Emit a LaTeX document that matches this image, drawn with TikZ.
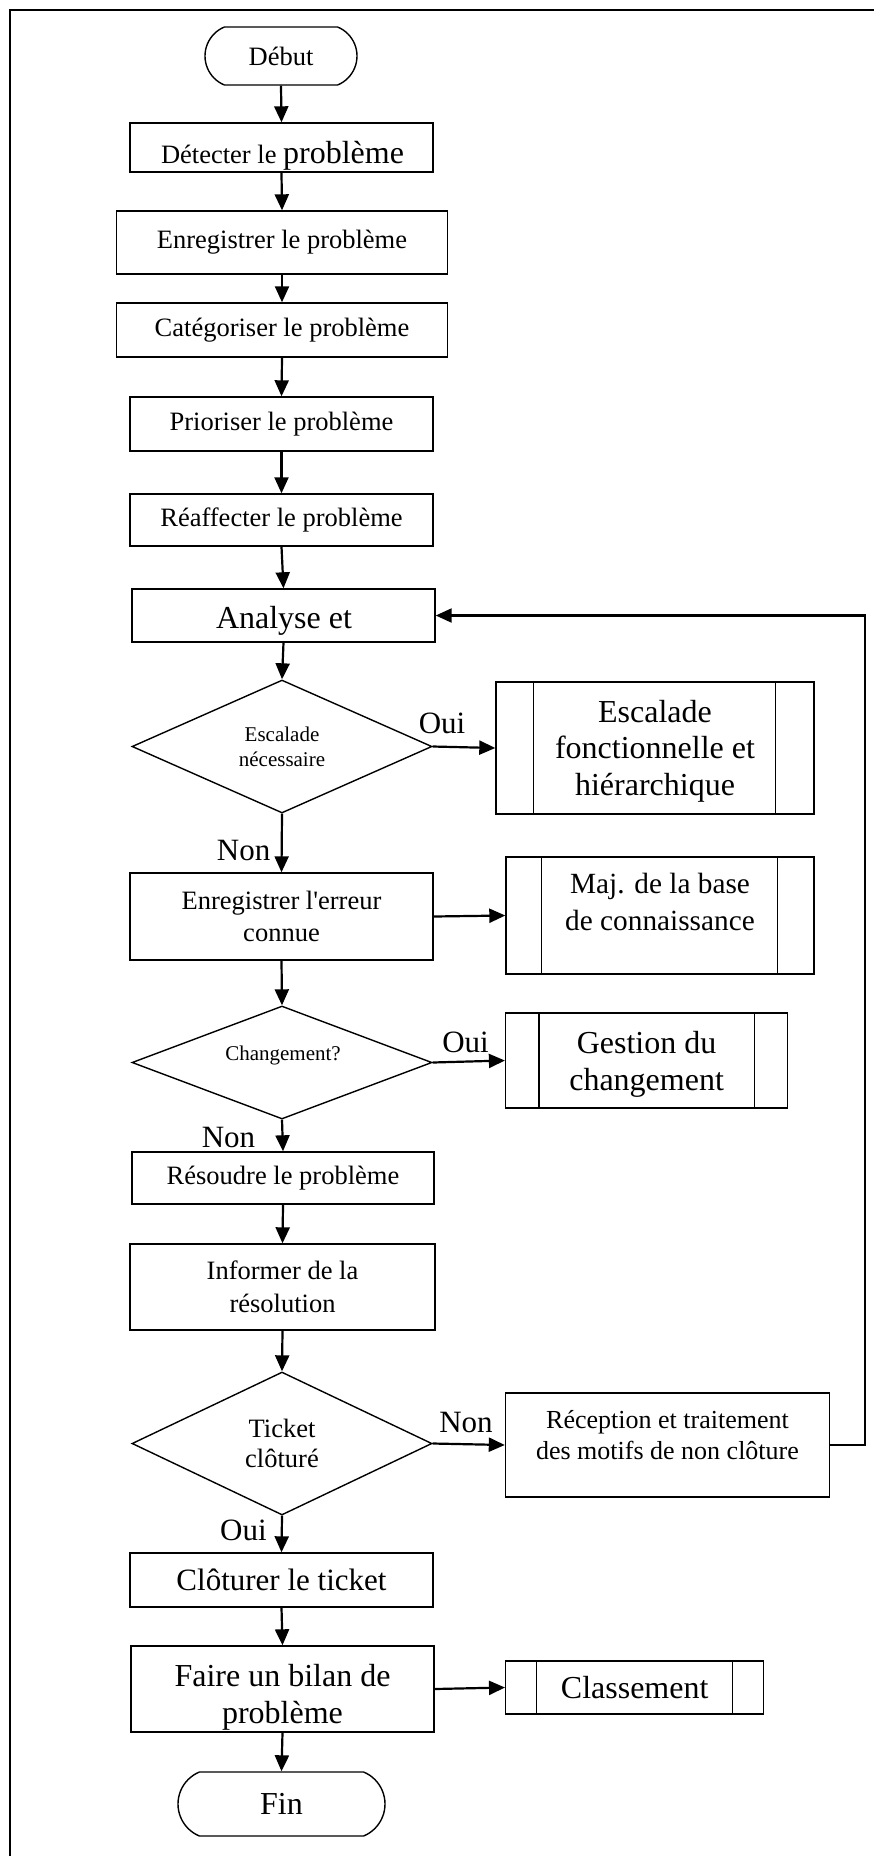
\documentclass[tikz,border=0pt]{standalone}
\usepackage{fontspec}
\setmainfont{Liberation Serif}
\usetikzlibrary{shapes.geometric,shapes.misc,arrows.meta}
\begin{document}
\begin{tikzpicture}[x=1pt,y=-1pt,
  box/.style={draw, rectangle, line width=1.4pt, inner sep=0pt, align=center},
  term/.style={draw, rounded rectangle, rounded rectangle arc length=135, line width=1.4pt, inner sep=0pt},
  decision/.style={draw, diamond, aspect=2.2, line width=1.4pt, inner sep=0pt, align=center},
  flow/.style={line width=2.2pt, -{Triangle[length=16pt,width=14pt]}},
  bar/.style={line width=1.4pt},
  txt/.style={inner sep=0pt, align=center},
  fnorm/.style={font=\fontsize{26.5}{32}\selectfont},
  fbig/.style={font=\fontsize{32}{36.7}\selectfont},
  fsmall/.style={font=\fontsize{21}{24.7}\selectfont},
  answer/.style={inner sep=0pt, anchor=base, font=\fontsize{31}{36}\selectfont},
]
\useasboundingbox (0,0) rectangle (874,1856);

% page frame (top and left edges)
\draw[line width=1.7pt] (10,1870) -- (10,10) -- (890,10);

% main column
\node[term, minimum width=152pt, minimum height=58pt, fnorm] (debut) at (281,56) {Début};
\node[box, minimum width=303pt, minimum height=49pt] (detect) at (281.5,147.5) {};
\node[txt, anchor=base, fnorm] (detect-txt) at (282.5,163.3) {Détecter le {\fontsize{32}{36}\selectfont problème}};
\node[box, minimum width=331pt, minimum height=63pt, fnorm] (enreg) at (282,242.5) {Enregistrer le problème};
\node[box, minimum width=331pt, minimum height=54pt, fnorm] (categ) at (282,330) {Catégoriser le problème};
\node[box, minimum width=303pt, minimum height=54pt, fnorm] (prior) at (281.5,424) {Prioriser le problème};
\node[box, minimum width=303pt, minimum height=52pt, fnorm] (reaff) at (281.5,520) {Réaffecter le problème};
\node[box, minimum width=303pt, minimum height=53pt] (ana) at (283.5,615.5) {};
\node[txt, anchor=base, fbig] (ana-txt) at (284,628) {Analyse et};
\node[decision, minimum width=300pt, minimum height=133pt, fsmall] (escq) at (282,746.5) {Escalade\\nécessaire};
\node[box, minimum width=303pt, minimum height=87pt, font=\fontsize{26.5}{32}\selectfont] (err) at (281.5,916.5) {Enregistrer l\textquotesingle erreur\\connue};
\node[decision, minimum width=300pt, minimum height=113pt] (chgq) at (282,1062.5) {};
\node[txt, fsmall] (chgq-txt) at (283,1055) {Changement?};
\node[box, minimum width=302pt, minimum height=52pt, fnorm] (resol) at (283,1178) {Résoudre le problème};
\node[box, minimum width=305pt, minimum height=86pt, font=\fontsize{26.5}{32.6}\selectfont] (inform) at (282.5,1287) {Informer de la\\résolution};
\node[decision, minimum width=300pt, minimum height=143pt, font=\fontsize{26.5}{30.6}\selectfont] (ticketq) at (282,1443.5) {Ticket\\clôturé};
\node[box, minimum width=303pt, minimum height=54pt, font=\fontsize{31}{36}\selectfont] (clot) at (281.5,1580) {Clôturer le ticket};
\node[box, minimum width=303pt, minimum height=86pt] (bilan) at (282.5,1689) {};
\node[txt, fbig] (bilan-txt) at (282.5,1697.5) {Faire un bilan de\\problème};
\node[term, minimum width=207pt, minimum height=64pt, fbig] (fin) at (281.5,1804) {Fin};

% side column
\node[box, minimum width=318pt, minimum height=132pt] (esc) at (655,748) {};
\node[txt, fbig] (esc-txt) at (655,751) {Escalade\\fonctionnelle et\\hiérarchique};
\node[box, minimum width=308pt, minimum height=117pt] (maj) at (660,915.5) {};
\node[txt, font=\fontsize{29.3}{37}\selectfont] (maj-txt) at (660,901.5) {Maj. de la base\\de connaissance};
\node[box, minimum width=282pt, minimum height=95pt] (gest) at (646.6,1060.5) {};
\node[txt, fbig] (gest-txt) at (646.6,1064) {Gestion du\\changement};
\node[box, minimum width=324pt, minimum height=104pt] (recep) at (667.5,1445) {};
\node[txt, font=\fontsize{26}{31.7}\selectfont] (recep-txt) at (667.5,1435) {Réception et traitement\\des motifs de non clôture};
\node[box, minimum width=258pt, minimum height=53pt, fbig] (classe) at (634.7,1687.5) {Classement};

% inner bars of the predefined-process boxes
\draw[bar] ([xshift=38pt]esc.north west) -- ([xshift=38pt]esc.south west);
\draw[bar] ([xshift=-39pt]esc.north east) -- ([xshift=-39pt]esc.south east);
\draw[bar] ([xshift=36.4pt]maj.north west) -- ([xshift=36.4pt]maj.south west);
\draw[bar] ([xshift=-37.5pt]maj.north east) -- ([xshift=-37.5pt]maj.south east);
\draw[bar] ([xshift=34pt]gest.north west) -- ([xshift=34pt]gest.south west);
\draw[bar] ([xshift=-34pt]gest.north east) -- ([xshift=-34pt]gest.south east);
\draw[bar] ([xshift=31.4pt]classe.north west) -- ([xshift=31.4pt]classe.south west);
\draw[bar] ([xshift=-31.7pt]classe.north east) -- ([xshift=-31.7pt]classe.south east);

% main flow
\draw[flow] (debut.south) -- (detect.north);
\draw[flow] (detect.south) -- (enreg.north);
\draw[flow] (enreg.south) -- (categ.north);
\draw[flow] (categ.south) -- (prior.north);
\draw[flow] (prior.south) -- (reaff.north);
\draw[flow] (reaff.south) -- (ana.north);
\draw[flow] (ana.south) -- (escq.north);
\draw[flow] (escq.south) -- (err.north);
\draw[flow] (err.south) -- (chgq.north);
\draw[flow] (chgq.south) -- (resol.north);
\draw[flow] (resol.south) -- (inform.north);
\draw[flow] (inform.south) -- (ticketq.north);
\draw[flow] (ticketq.south) -- (clot.north);
\draw[flow] (clot.south) -- (bilan.north);
\draw[flow] (bilan.south) -- (fin.north);

% branches
\draw[flow] (escq.east) -- (esc.west);
\draw[flow] (err.east) -- (maj.west);
\draw[flow] (chgq.east) -- (gest.west);
\draw[flow] (ticketq.east) -- (recep.west);
\draw[flow] (bilan.east) -- (classe.west);
\draw[flow] (recep.east) -- ++(35,0) |- (ana.east);

% answers
\node[answer] (oui1) at (442,733) {Oui};
\node[answer] (non1) at (243.6,860) {Non};
\node[answer] (oui2) at (465.6,1052) {Oui};
\node[answer] (non2) at (228.5,1147) {Non};
\node[answer] (non3) at (466,1432) {Non};
\node[answer] (oui3) at (243.4,1540) {Oui};
\end{tikzpicture}
\end{document}
